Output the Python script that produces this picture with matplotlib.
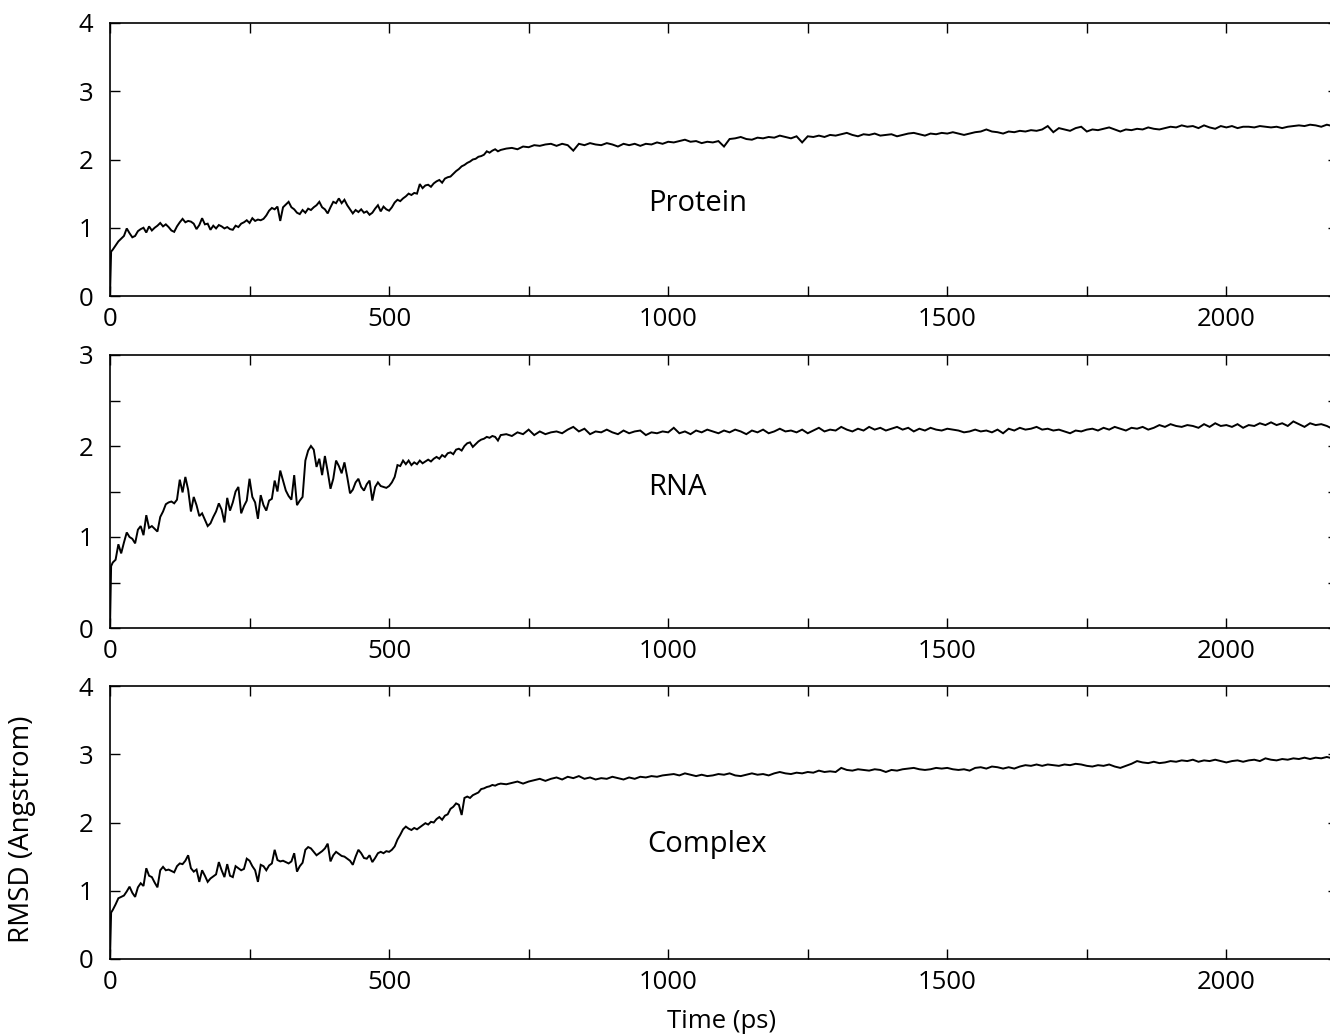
import matplotlib
matplotlib.use("Agg")
import matplotlib.pyplot as plt
from matplotlib.ticker import MultipleLocator

plt.rcParams['font.family'] = ['Open Sans', 'DejaVu Sans']

# time axis (ps)
time_ps = [0, 2] + list(range(5, 700, 5)) + list(range(700, 2200, 10))

protein = [0.0, 0.65,
    0.68, 0.74, 0.80, 0.84, 0.88, 0.99, 0.92, 0.86, 0.88, 0.95,
    0.98, 1.00, 0.93, 1.02, 0.96, 1.00, 1.03, 1.07, 1.02, 1.05,
    1.01, 0.96, 0.94, 1.02, 1.08, 1.13, 1.08, 1.10, 1.09, 1.06,
    0.98, 1.04, 1.14, 1.05, 1.06, 0.97, 1.03, 0.99, 1.04, 1.02,
    0.99, 1.01, 0.98, 0.97, 1.03, 1.01, 1.06, 1.08, 1.11, 1.07,
    1.14, 1.10, 1.12, 1.11, 1.13, 1.18, 1.25, 1.29, 1.27, 1.31,
    1.10, 1.30, 1.34, 1.38, 1.30, 1.27, 1.22, 1.20, 1.26, 1.22,
    1.28, 1.26, 1.30, 1.33, 1.38, 1.30, 1.27, 1.21, 1.30, 1.38,
    1.36, 1.43, 1.36, 1.41, 1.33, 1.27, 1.21, 1.26, 1.23, 1.27,
    1.22, 1.24, 1.19, 1.22, 1.28, 1.33, 1.24, 1.31, 1.27, 1.25,
    1.30, 1.37, 1.41, 1.39, 1.43, 1.46, 1.50, 1.48, 1.51, 1.50,
    1.64, 1.58, 1.62, 1.63, 1.60, 1.65, 1.68, 1.70, 1.66, 1.72,
    1.74, 1.75, 1.79, 1.83, 1.86, 1.90, 1.92, 1.95, 1.97, 2.00,
    2.01, 2.04, 2.05, 2.07, 2.12, 2.10, 2.13, 2.15, 2.12,
    2.14, 2.16, 2.17, 2.15, 2.19, 2.18, 2.21, 2.20, 2.22, 2.23,
    2.20, 2.23, 2.21, 2.13, 2.23, 2.21, 2.24, 2.22, 2.21, 2.24,
    2.22, 2.19, 2.23, 2.21, 2.23, 2.20, 2.23, 2.22, 2.25, 2.23,
    2.26, 2.25, 2.27, 2.29, 2.26, 2.27, 2.24, 2.26, 2.25, 2.27,
    2.19, 2.30, 2.31, 2.33, 2.30, 2.29, 2.32, 2.31, 2.33, 2.32,
    2.35, 2.33, 2.31, 2.34, 2.25, 2.34, 2.33, 2.35, 2.33, 2.36,
    2.35, 2.37, 2.39, 2.36, 2.34, 2.37, 2.36, 2.38, 2.35, 2.36,
    2.37, 2.34, 2.36, 2.38, 2.39, 2.37, 2.35, 2.38, 2.37, 2.39,
    2.38, 2.40, 2.38, 2.36, 2.38, 2.40, 2.41, 2.44, 2.41, 2.40,
    2.38, 2.41, 2.40, 2.42, 2.41, 2.43, 2.42, 2.44, 2.49, 2.40,
    2.46, 2.44, 2.42, 2.46, 2.48, 2.41, 2.44, 2.43, 2.45, 2.47,
    2.44, 2.41, 2.44, 2.43, 2.45, 2.44, 2.47, 2.45, 2.44, 2.46,
    2.48, 2.47, 2.50, 2.48, 2.49, 2.46, 2.50, 2.47, 2.45, 2.49,
    2.47, 2.49, 2.46, 2.48, 2.48, 2.47, 2.49, 2.48, 2.47, 2.48,
    2.46, 2.48, 2.49, 2.50, 2.49, 2.51, 2.50, 2.48, 2.51, 2.49]

rna = [0.0, 0.68,
    0.72, 0.75, 0.92, 0.82, 0.94, 1.05, 1.00, 0.98, 0.93, 1.08,
    1.12, 1.02, 1.24, 1.10, 1.12, 1.09, 1.06, 1.22, 1.28, 1.36,
    1.38, 1.39, 1.37, 1.41, 1.63, 1.49, 1.66, 1.52, 1.28, 1.44,
    1.35, 1.23, 1.26, 1.19, 1.12, 1.15, 1.22, 1.28, 1.37, 1.30,
    1.16, 1.43, 1.29, 1.38, 1.50, 1.55, 1.26, 1.34, 1.40, 1.64,
    1.44, 1.38, 1.20, 1.46, 1.35, 1.29, 1.40, 1.42, 1.62, 1.50,
    1.73, 1.62, 1.51, 1.45, 1.41, 1.68, 1.35, 1.40, 1.44, 1.84,
    1.95, 2.00, 1.96, 1.77, 1.86, 1.68, 1.89, 1.72, 1.53, 1.64,
    1.84, 1.78, 1.70, 1.82, 1.66, 1.48, 1.52, 1.60, 1.64, 1.55,
    1.51, 1.58, 1.62, 1.40, 1.55, 1.60, 1.56, 1.55, 1.54, 1.56,
    1.60, 1.66, 1.79, 1.78, 1.84, 1.80, 1.84, 1.79, 1.82, 1.80,
    1.84, 1.81, 1.83, 1.85, 1.83, 1.86, 1.88, 1.86, 1.90, 1.88,
    1.92, 1.93, 1.91, 1.96, 1.97, 1.95, 2.00, 2.03, 2.04, 1.99,
    2.02, 2.05, 2.07, 2.08, 2.10, 2.09, 2.11, 2.10, 2.06,
    2.12, 2.13, 2.11, 2.15, 2.13, 2.18, 2.12, 2.16, 2.13, 2.15,
    2.16, 2.14, 2.18, 2.21, 2.16, 2.19, 2.13, 2.16, 2.15, 2.18,
    2.15, 2.13, 2.17, 2.14, 2.16, 2.17, 2.12, 2.15, 2.14, 2.16,
    2.15, 2.20, 2.14, 2.16, 2.13, 2.17, 2.15, 2.18, 2.16, 2.14,
    2.17, 2.15, 2.18, 2.16, 2.13, 2.17, 2.15, 2.18, 2.14, 2.16,
    2.19, 2.16, 2.17, 2.15, 2.18, 2.14, 2.17, 2.20, 2.16, 2.18,
    2.17, 2.21, 2.18, 2.16, 2.19, 2.17, 2.21, 2.18, 2.20, 2.17,
    2.19, 2.21, 2.18, 2.20, 2.16, 2.19, 2.17, 2.20, 2.18, 2.17,
    2.19, 2.18, 2.17, 2.15, 2.16, 2.18, 2.16, 2.17, 2.15, 2.18,
    2.14, 2.19, 2.17, 2.20, 2.18, 2.19, 2.21, 2.18, 2.19, 2.17,
    2.18, 2.16, 2.14, 2.17, 2.16, 2.18, 2.19, 2.17, 2.20, 2.18,
    2.21, 2.19, 2.17, 2.20, 2.19, 2.21, 2.18, 2.20, 2.23, 2.21,
    2.24, 2.22, 2.21, 2.23, 2.22, 2.20, 2.24, 2.21, 2.25, 2.22,
    2.23, 2.21, 2.24, 2.20, 2.23, 2.22, 2.25, 2.23, 2.26, 2.23,
    2.25, 2.22, 2.27, 2.24, 2.21, 2.25, 2.23, 2.24, 2.22, 2.19]

complex_ = [0.0, 0.68,
    0.72, 0.80, 0.89, 0.91, 0.93, 0.99, 1.06, 0.97, 0.91, 1.05,
    1.11, 1.07, 1.33, 1.22, 1.20, 1.12, 1.05, 1.30, 1.35, 1.30,
    1.31, 1.29, 1.27, 1.36, 1.40, 1.39, 1.44, 1.52, 1.33, 1.28,
    1.31, 1.13, 1.30, 1.22, 1.13, 1.18, 1.21, 1.24, 1.42, 1.30,
    1.20, 1.39, 1.22, 1.20, 1.36, 1.33, 1.30, 1.32, 1.47, 1.44,
    1.36, 1.30, 1.13, 1.38, 1.36, 1.30, 1.37, 1.40, 1.60, 1.45,
    1.43, 1.44, 1.42, 1.40, 1.43, 1.55, 1.28, 1.36, 1.41, 1.60,
    1.64, 1.62, 1.57, 1.52, 1.55, 1.58, 1.62, 1.69, 1.43, 1.52,
    1.57, 1.54, 1.51, 1.50, 1.47, 1.44, 1.38, 1.50, 1.60, 1.55,
    1.48, 1.47, 1.52, 1.42, 1.48, 1.55, 1.57, 1.55, 1.58, 1.57,
    1.60, 1.65, 1.75, 1.82, 1.90, 1.94, 1.91, 1.89, 1.92, 1.90,
    1.93, 1.96, 1.99, 1.97, 2.01, 2.00, 2.05, 2.08, 2.04, 2.10,
    2.12, 2.20, 2.23, 2.28, 2.26, 2.11, 2.36, 2.38, 2.36, 2.40,
    2.42, 2.44, 2.49, 2.50, 2.52, 2.53, 2.55, 2.54, 2.56,
    2.57, 2.56, 2.58, 2.60, 2.57, 2.60, 2.62, 2.64, 2.61, 2.64,
    2.66, 2.63, 2.67, 2.65, 2.68, 2.64, 2.66, 2.63, 2.65, 2.64,
    2.67, 2.65, 2.63, 2.66, 2.64, 2.67, 2.66, 2.68, 2.67, 2.69,
    2.70, 2.71, 2.69, 2.72, 2.70, 2.68, 2.70, 2.68, 2.69, 2.71,
    2.70, 2.72, 2.69, 2.68, 2.70, 2.72, 2.70, 2.71, 2.69, 2.72,
    2.74, 2.72, 2.71, 2.73, 2.72, 2.74, 2.73, 2.76, 2.74, 2.75,
    2.74, 2.80, 2.77, 2.76, 2.78, 2.77, 2.76, 2.78, 2.77, 2.74,
    2.77, 2.76, 2.78, 2.79, 2.80, 2.78, 2.77, 2.78, 2.80, 2.79,
    2.80, 2.78, 2.77, 2.78, 2.76, 2.80, 2.81, 2.79, 2.82, 2.81,
    2.79, 2.81, 2.79, 2.82, 2.84, 2.83, 2.85, 2.83, 2.85, 2.84,
    2.83, 2.85, 2.84, 2.86, 2.85, 2.83, 2.82, 2.84, 2.83, 2.85,
    2.82, 2.80, 2.83, 2.86, 2.90, 2.88, 2.87, 2.89, 2.87, 2.88,
    2.90, 2.89, 2.91, 2.90, 2.92, 2.89, 2.91, 2.90, 2.92, 2.90,
    2.88, 2.90, 2.91, 2.89, 2.91, 2.92, 2.90, 2.94, 2.92, 2.91,
    2.93, 2.92, 2.94, 2.93, 2.95, 2.93, 2.95, 2.94, 2.96, 2.94]

panel_names = ["Protein", "RNA", "Complex"]
panel_series = [protein, rna, complex_]
panel_ymax = [4, 3, 4]
label_pos = [(964, 1.25), (964, 1.46), (962, 1.57)]
x_ticks = [0, 500, 1000, 1500, 2000]

W, H = 1330, 1036
fig = plt.figure(figsize=(W / 100, H / 100), dpi=100)

left_px, right_px = 110, 1338
panel_px = [(23, 296), (355, 628), (686, 959)]

for i, (name, ser, ymax) in enumerate(zip(panel_names, panel_series, panel_ymax)):
    top, bot = panel_px[i]
    ax = fig.add_axes([left_px / W, 1 - bot / H, (right_px - left_px) / W, (bot - top) / H])
    ax.plot(time_ps[:len(ser)], ser, color='black', lw=1.4, solid_joinstyle='miter')
    ax.set_xlim(0, 2200)
    ax.set_ylim(0, ymax)
    ax.set_xticks(x_ticks)
    ax.xaxis.set_minor_locator(MultipleLocator(250))
    ax.yaxis.set_major_locator(MultipleLocator(1))
    if ymax == 3:
        ax.yaxis.set_minor_locator(MultipleLocator(0.5))
    ax.tick_params(which='both', direction='in', top=True, right=True,
                   length=7, width=1.0, labelsize=18.5)
    ax.tick_params(axis='x', which='major', pad=8)
    ax.tick_params(axis='y', which='major', pad=12)
    for s in ax.spines.values():
        s.set_linewidth(1.2)
    ax.text(label_pos[i][0], label_pos[i][1], name, fontsize=21,
            ha='left', va='baseline')

fig.text(722 / W, 1 - 1022 / H, "Time (ps)", fontsize=18.5, ha='center', va='center')
fig.text(22 / W, 1 - 829 / H, "RMSD (Angstrom)", fontsize=20, ha='center',
         va='center', rotation=90)

fig.savefig("out.png", dpi=100)
